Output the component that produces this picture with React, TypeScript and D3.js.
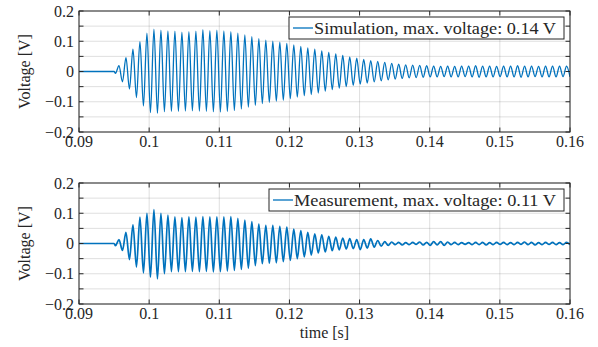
import React from 'react';
import * as d3 from 'd3';

// time axis
const xTicks = [0.09, 0.1, 0.11, 0.12, 0.13, 0.14, 0.15, 0.16];
const xTickLabels = ['0.09', '0.1', '0.11', '0.12', '0.13', '0.14', '0.15', '0.16'];
// voltage axis (grid / ticks every 0.05, labels every 0.1)
const yTicks = [-0.2, -0.15, -0.1, -0.05, 0, 0.05, 0.1, 0.15, 0.2];
const yLabelTicks = [-0.2, -0.1, 0, 0.1, 0.2];
const yTickLabels = ['\u22120.2', '\u22120.1', '0', '0.1', '0.2'];

// signal is flat before onset, then extrema alternate trough / peak every half period
const startTime = 0.09;
const onsetTime = 0.0950;
const firstExtremumTime = 0.0952;
const halfPeriod = 0.0004985;

const simPeaks = [
  0.019, 0.046, 0.074, 0.099, 0.127, 0.140, 0.137, 0.134, 0.133, 0.130,
  0.132, 0.133, 0.138, 0.135, 0.137, 0.134, 0.132, 0.127, 0.121, 0.115,
  0.109, 0.104, 0.100, 0.097, 0.093, 0.088, 0.083, 0.078, 0.074, 0.068,
  0.063, 0.058, 0.053, 0.048, 0.044, 0.040, 0.036, 0.033, 0.030, 0.027,
  0.024, 0.022, 0.021, 0.020, 0.019, 0.018, 0.017, 0.018, 0.017, 0.018,
  0.018, 0.019, 0.018, 0.018, 0.017, 0.018, 0.018, 0.019, 0.018, 0.018,
  0.017, 0.018, 0.018, 0.018, 0.018,
];
const simTroughs = [
  -0.006, -0.034, -0.058, -0.086, -0.114, -0.136, -0.138, -0.133, -0.132, -0.132,
  -0.131, -0.130, -0.131, -0.132, -0.133, -0.134, -0.132, -0.129, -0.124, -0.118,
  -0.112, -0.106, -0.102, -0.098, -0.095, -0.090, -0.085, -0.080, -0.076, -0.071,
  -0.065, -0.060, -0.055, -0.050, -0.046, -0.042, -0.038, -0.034, -0.031, -0.028,
  -0.025, -0.023, -0.021, -0.020, -0.019, -0.018, -0.018, -0.017, -0.018, -0.018,
  -0.017, -0.018, -0.019, -0.018, -0.018, -0.017, -0.018, -0.018, -0.019, -0.018,
  -0.017, -0.018, -0.018, -0.018, -0.017, -0.018,
];

const measPeaks = [
  0.013, 0.037, 0.062, 0.087, 0.100, 0.112, 0.100, 0.094, 0.088, 0.086,
  0.088, 0.087, 0.089, 0.088, 0.088, 0.088, 0.089, 0.083, 0.077, 0.072,
  0.064, 0.060, 0.060, 0.057, 0.054, 0.048, 0.043, 0.037, 0.032, 0.029,
  0.024, 0.021, 0.018, 0.016, 0.013, 0.013, 0.015, 0.010, 0.006, 0.005,
  0.004, 0.003, 0.004, 0.005, 0.004, 0.006, 0.006, 0.005, 0.004, 0.003,
  0.003, 0.004, 0.004, 0.003, 0.004, 0.004, 0.003, 0.004, 0.005, 0.004,
  0.003, 0.004, 0.004, 0.003, 0.004,
];
const measTroughs = [
  -0.007, -0.023, -0.053, -0.078, -0.097, -0.111, -0.117, -0.100, -0.093, -0.093,
  -0.093, -0.092, -0.093, -0.092, -0.094, -0.093, -0.091, -0.089, -0.086, -0.082,
  -0.073, -0.067, -0.065, -0.064, -0.060, -0.056, -0.050, -0.044, -0.038, -0.031,
  -0.028, -0.024, -0.021, -0.018, -0.017, -0.020, -0.015, -0.012, -0.009, -0.006,
  -0.004, -0.005, -0.004, -0.003, -0.005, -0.006, -0.005, -0.006, -0.004, -0.004,
  -0.003, -0.004, -0.004, -0.005, -0.004, -0.003, -0.004, -0.004, -0.003, -0.004,
  -0.005, -0.004, -0.003, -0.004, -0.004, -0.004,
];

const panels = [
  { top: 11, bottom: 132, peaks: simPeaks, troughs: simTroughs, legend: 'Simulation, max. voltage: 0.14 V', legendLeft: 289, textLen: 242, width: 1.3 },
  { top: 183, bottom: 304, peaks: measPeaks, troughs: measTroughs, legend: 'Measurement, max. voltage: 0.11 V', legendLeft: 269, textLen: 262, width: 1.7 },
];

const W = 598;
const H = 347;
const left = 79;
const right = 570;
const font = '"Liberation Serif", "DejaVu Serif", serif';
const blue = '#0072BD';
const axisColor = '#262626';

function buildSignal(peaks: number[], troughs: number[]): [number, number][] {
  const pts: [number, number][] = [[startTime, 0], [onsetTime, 0]];
  const n = peaks.length + troughs.length;
  for (let k = 0; k < n; k++) {
    const v = k % 2 === 0 ? troughs[k / 2] : peaks[(k - 1) / 2];
    pts.push([firstExtremumTime + k * halfPeriod, v]);
  }
  return pts;
}

const x = d3.scaleLinear().domain([0.09, 0.16]).range([left, right]);

const Panel: React.FC<{ p: typeof panels[0]; idx: number }> = ({ p, idx }) => {
  const y = d3.scaleLinear().domain([-0.2, 0.2]).range([p.bottom, p.top]);
  const line = d3.line<[number, number]>()
    .x(d => x(d[0]))
    .y(d => y(d[1]))
    .curve(d3.curveMonotoneX);
  const clipId = `clip${idx}`;
  const midY = (p.top + p.bottom) / 2;
  return (
    <g>
      <defs>
        <clipPath id={clipId}>
          <rect x={left} y={p.top} width={right - left} height={p.bottom - p.top} />
        </clipPath>
      </defs>
      <rect x={left} y={p.top} width={right - left} height={p.bottom - p.top} fill="#fff" />
      {/* grid */}
      {xTicks.map(t => (
        <line key={'gx' + t} x1={x(t)} x2={x(t)} y1={p.top} y2={p.bottom} stroke={axisColor} strokeOpacity={0.15} />
      ))}
      {yTicks.map(t => (
        <line key={'gy' + t} x1={left} x2={right} y1={y(t)} y2={y(t)} stroke={axisColor} strokeOpacity={0.15} />
      ))}
      <path d={line(buildSignal(p.peaks, p.troughs)) || ''} fill="none" stroke={blue} strokeWidth={p.width} clipPath={`url(#${clipId})`} />
      {/* ticks */}
      {xTicks.map(t => (
        <g key={'tx' + t}>
          <line x1={x(t)} x2={x(t)} y1={p.bottom} y2={p.bottom - 4.5} stroke={axisColor} />
          <line x1={x(t)} x2={x(t)} y1={p.top} y2={p.top + 4.5} stroke={axisColor} />
        </g>
      ))}
      {yTicks.map(t => (
        <g key={'ty' + t}>
          <line x1={left} x2={left + 4.5} y1={y(t)} y2={y(t)} stroke={axisColor} />
          <line x1={right} x2={right - 4.5} y1={y(t)} y2={y(t)} stroke={axisColor} />
        </g>
      ))}
      <rect x={left} y={p.top} width={right - left} height={p.bottom - p.top} fill="none" stroke={axisColor} strokeWidth={1} />
      {/* tick labels */}
      {xTickLabels.map((s, i) => (
        <text key={'lx' + i} x={x(xTicks[i])} y={p.bottom + 15} textAnchor="middle" fontSize={16} fill={axisColor}>{s}</text>
      ))}
      {yTickLabels.map((s, i) => (
        <text key={'ly' + i} x={left - 5} y={y(yLabelTicks[i])} dy="0.35em" textAnchor="end" fontSize={16} fill={axisColor}>{s}</text>
      ))}
      <text transform={`translate(30,${midY}) rotate(-90)`} textAnchor="middle" fontSize={16} fill={axisColor}>Voltage [V]</text>
      {/* legend */}
      <rect x={p.legendLeft} y={p.top + 6} width={564 - p.legendLeft} height={22} fill="#fff" stroke={axisColor} strokeWidth={1} />
      <line x1={p.legendLeft + 4} x2={p.legendLeft + 24} y1={p.top + 17} y2={p.top + 17} stroke={blue} strokeWidth={1.3} />
      <text x={p.legendLeft + 25} y={p.top + 22.5} fontSize={16} textLength={p.textLen} lengthAdjust="spacingAndGlyphs" fill={axisColor}>{p.legend}</text>
    </g>
  );
};

export default function App() {
  return (
    <svg width={W} height={H} style={{ position: 'absolute', left: 0, top: 0, fontFamily: font, background: '#fff' }}>
      <rect width={W} height={H} fill="#fff" />
      {panels.map((p, i) => <Panel key={i} p={p} idx={i} />)}
      <text x={(left + right) / 2} y={338} textAnchor="middle" fontSize={16} fill={axisColor}>time [s]</text>
    </svg>
  );
}
